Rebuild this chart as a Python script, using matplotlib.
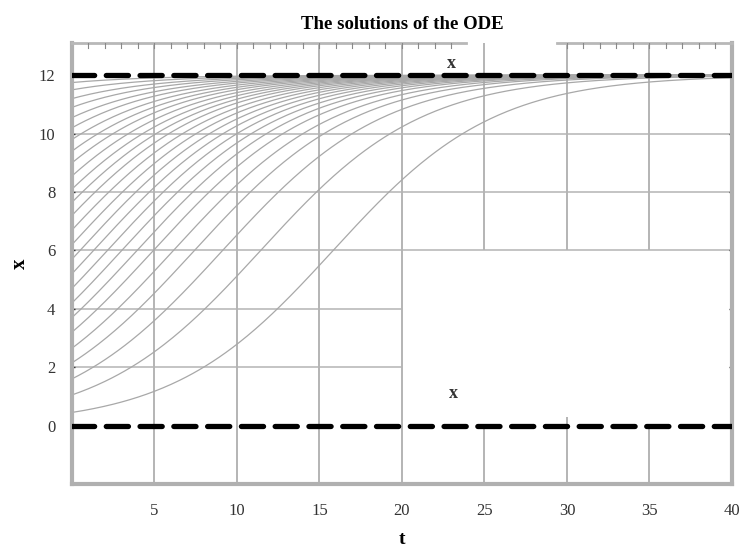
import numpy as np
from matplotlib import pyplot as plt

# initial values read at t=0 and the logistic parameters of the ODE x' = r x (1 - x/K)
x0_values = [0.45, 1.05, 1.6, 2.15, 2.65, 3.2, 3.7, 4.2, 4.7, 5.2, 5.7, 6.2, 6.7,
             7.2, 7.65, 8.1, 8.55, 9.0, 9.4, 9.8, 10.2, 10.55, 10.9, 11.2, 11.5, 11.75]
rate = 0.205
capacity = 12.0
equilibria = [0, 12]

x_ticks = [5, 10, 15, 20, 25, 30, 35, 40]
y_ticks = [0, 2, 4, 6, 8, 10, 12]

plt.rcParams['font.family'] = ['Liberation Serif', 'DejaVu Serif']

fig = plt.figure(figsize=(7.46, 5.46), dpi=100)
ax = fig.add_axes([0.0965, 0.1136, 0.8847, 0.8074])

gc = '#b4b4b4'
# patchy grid, as in the reference
ax.hlines([6, 8, 10], 0, 40, color=gc, lw=1.1, zorder=1)
ax.hlines([2, 4], 0, 20, color=gc, lw=1.1, zorder=1)
ax.vlines([5, 10, 15, 20], -2, 13.1, color=gc, lw=1.4, zorder=1)
ax.vlines([25, 30, 35], 6, 13.1, color=gc, lw=1.4, zorder=1)
ax.vlines([25, 30, 35], -2, 0, color=gc, lw=1.4, zorder=1)
ax.vlines([30], 0, 0.3, color=gc, lw=1.4, zorder=1)

t = np.linspace(0, 40, 400)
for x0 in x0_values:
    x = capacity / (1 + (capacity / x0 - 1) * np.exp(-rate * t))
    ax.plot(t, x, color='#a8a8a8', lw=0.9, zorder=2)

for y in equilibria:
    ax.plot([0, 40], [y, y], color='black', lw=3.8, dashes=(4.2, 2.2),
            solid_capstyle='round', dash_capstyle='round', zorder=4)

ax.text(23.0, 12.4, 'x', fontsize=13, fontweight='bold', ha='center', va='center', color='#333333')
ax.text(23.1, 1.1, 'x', fontsize=13, fontweight='bold', ha='center', va='center', color='#333333')

ax.set_xlim(0, 40)
ax.set_ylim(-2, 13.1)
ax.set_xticks(x_ticks)
ax.set_yticks(y_ticks)
ax.tick_params(axis='both', length=0, labelsize=12, colors='#333333')
ax.tick_params(axis='x', pad=14)
ax.tick_params(axis='y', pad=12)
ax.tick_params(axis='y', which='both', right=True, direction='in', length=2, width=1)

for side in ['left', 'bottom', 'right']:
    ax.spines[side].set_color('#b0b0b0')
    ax.spines[side].set_linewidth(3)
ax.spines['top'].set_visible(False)
# top border has a gap
ax.plot([0, 23.9], [13.1, 13.1], color='#b8b8b8', lw=2, clip_on=False, zorder=5)
ax.plot([29.4, 40], [13.1, 13.1], color='#b8b8b8', lw=2, clip_on=False, zorder=5)
# small tick dots along the top edge
for tk in range(1, 40):
    if 23.9 < tk < 29.4:
        continue
    ax.plot([tk, tk], [13.1, 12.95], color='#888888', lw=0.8, zorder=5)

ax.set_title('The solutions of the ODE', fontsize=13.5, fontweight='bold', pad=10)
ax.set_xlabel('t', fontsize=14, fontweight='bold', labelpad=8)
ax.set_ylabel('x', fontsize=15, fontweight='bold', labelpad=6)

fig.savefig('out.png', dpi=100)
